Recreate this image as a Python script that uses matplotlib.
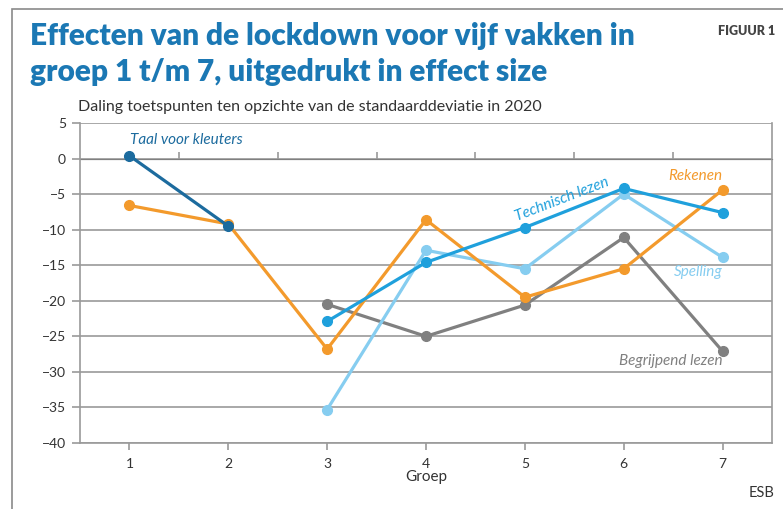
import matplotlib.pyplot as plt
from matplotlib.patches import Rectangle

groepen = [1, 2, 3, 4, 5, 6, 7]

taal_x = [1, 2]
taal = [0.4, -9.5]

rekenen = [-6.6, -9.2, -26.8, -8.6, -19.5, -15.5, -4.4]

lezen_x = [3, 4, 5, 6, 7]
technisch = [-22.9, -14.6, -9.7, -4.2, -7.6]
spelling = [-35.3, -12.9, -15.5, -5.0, -13.9]
begrijpend = [-20.5, -25.0, -20.6, -11.1, -27.1]

y_ticks = [5, 0, -5, -10, -15, -20, -25, -30, -35, -40]

c_taal = "#1c6b9e"
c_reken = "#f39a2c"
c_tech = "#1fa0dc"
c_spel = "#86cdf0"
c_begr = "#808080"
c_grid = "#9a9a9a"
c_text = "#333333"

plt.rcParams["font.family"] = ["Lato", "DejaVu Sans"]

fig = plt.figure(figsize=(7.83, 5.09), dpi=100)

# frame around the figure
fig.patches.append(Rectangle((12 / 783, -0.05), 1.1, 1 - 9 / 509 + 0.05,
                             transform=fig.transFigure, fill=False,
                             edgecolor="#8a8a8a", lw=1.2))

ax = fig.add_axes([80 / 783, 1 - 443 / 509, 692 / 783, 320 / 509])

kw = dict(lw=2.3, marker="o", ms=7, solid_capstyle="round")
ax.plot(lezen_x, begrijpend, color=c_begr, **kw)
ax.plot(lezen_x, spelling, color=c_spel, **kw)
ax.plot(groepen, rekenen, color=c_reken, **kw)
ax.plot(lezen_x, technisch, color=c_tech, **kw)
ax.plot(taal_x, taal, color=c_taal, **kw)

ax.set_xlim(0.5, 7.5)
ax.set_ylim(-40, 5)
ax.set_yticks(y_ticks)
ax.set_yticklabels([str(v).replace("-", "\u2212") for v in y_ticks])
ax.set_xticks(groepen)
ax.grid(axis="y", color=c_grid, lw=1.2)
ax.set_axisbelow(True)
ax.tick_params(axis="y", length=6, color=c_grid, width=1.2, labelsize=10,
               labelcolor=c_text, pad=4)
ax.tick_params(axis="x", length=5, color=c_grid, width=1.2, labelsize=10,
               labelcolor=c_text, pad=6)
for s in ax.spines.values():
    s.set_color(c_grid)
    s.set_linewidth(1.2)
ax.spines["top"].set_visible(False)
ax.set_xlabel("Groep", fontsize=11, color=c_text, labelpad=0)

# category boundary ticks on the zero line
sec = ax.secondary_xaxis(40 / 45)
sec.set_xticks([1.5, 2.5, 3.5, 4.5, 5.5, 6.5])
sec.set_xticklabels([])
sec.tick_params(length=5, color=c_grid, width=1.2, direction="out")
sec.spines["bottom"].set_visible(False)

# series labels
lab = dict(fontsize=11, style="italic")
ax.text(1.01, 2.6, "Taal voor kleuters", color=c_taal, ha="left", va="center", **lab)
ax.text(7.0, -2.4, "Rekenen", color=c_reken, ha="right", va="center", **lab)
ax.text(5.38, -5.8, "Technisch lezen", color=c_tech, ha="center", va="center",
        rotation=21, **lab)
ax.text(7.0, -15.9, "Spelling", color=c_spel, ha="right", va="center", **lab)
ax.text(7.0, -28.5, "Begrijpend lezen", color=c_begr, ha="right", va="center", **lab)

title_kw = dict(fontsize=21.5, fontweight="heavy", color="#1b78b4")
fig.text(30 / 783, 1 - 36 / 509, "Effecten van de lockdown voor vijf vakken in",
         va="center", ha="left", **title_kw)
fig.text(30 / 783, 1 - 72 / 509, "groep 1 t/m 7, uitgedrukt in effect size",
         va="center", ha="left", **title_kw)
fig.text(775 / 783, 1 - 31 / 509, "FIGUUR 1", fontsize=9, fontweight="heavy",
         color="#444444", ha="right", va="center")
fig.text(78 / 783, 1 - 107 / 509,
         "Daling toetspunten ten opzichte van de standaarddeviatie in 2020",
         fontsize=11.5, color=c_text, ha="left", va="center")
fig.text(775 / 783, 1 - 493 / 509, "ESB", fontsize=10.5, color=c_text,
         ha="right", va="center")

fig.savefig("out.png", dpi=100)
